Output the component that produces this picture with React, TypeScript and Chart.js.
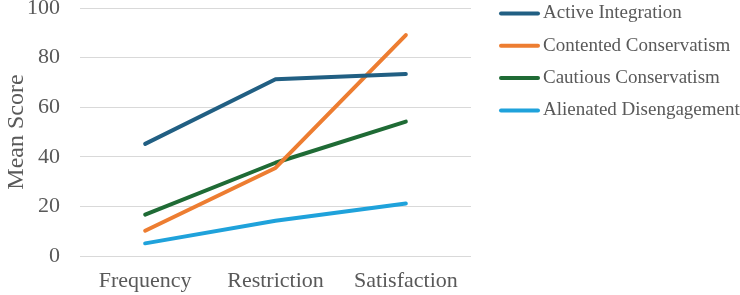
import React, { useEffect, useRef } from "react";
import { Chart, registerables } from "chart.js";

Chart.register(...registerables);

const categories = ["Frequency", "Restriction", "Satisfaction"];

const seriesNames = [
  "Active Integration",
  "Contented Conservatism",
  "Cautious Conservatism",
  "Alienated Disengagement",
];

const activeIntegration = [45.2, 71.3, 73.4];
const contentedConservatism = [10.2, 35.5, 89.1];
const cautiousConservatism = [16.7, 37.6, 54.2];
const alienatedDisengagement = [5.1, 14.2, 21.2];

const seriesColors = ["#215F83", "#ED7D31", "#1F6B35", "#1FA2DB"];

const yTicks = [0, 20, 40, 60, 80, 100];

const FONT = "'Liberation Serif', 'Times New Roman', serif";
const TEXT_COLOR = "#595959";

// Legend drawn to the right of the plot: a short line swatch butted against its label.
const sideLegend = {
  id: "sideLegend",
  afterDraw(chart: any) {
    const { ctx, chartArea } = chart;
    const x0 = chartArea.right + 28;
    const swatch = 41;
    const rowGap = 32.3;
    ctx.save();
    ctx.font = `19px ${FONT}`;
    ctx.textBaseline = "middle";
    ctx.textAlign = "left";
    chart.data.datasets.forEach((ds: any, i: number) => {
      const y = chartArea.top + 5.5 + i * rowGap;
      ctx.strokeStyle = ds.borderColor;
      ctx.lineWidth = 4;
      ctx.lineCap = "round";
      ctx.beginPath();
      ctx.moveTo(x0 + 2, y);
      ctx.lineTo(x0 + swatch - 2, y);
      ctx.stroke();
      ctx.fillStyle = TEXT_COLOR;
      ctx.fillText(ds.label, x0 + swatch + 3, y);
    });
    ctx.restore();
  },
};

export default function App() {
  const canvasRef = useRef<HTMLCanvasElement | null>(null);

  useEffect(() => {
    document.body.style.margin = "0";
    const canvas = canvasRef.current;
    if (!canvas) return;
    const values = [
      activeIntegration,
      contentedConservatism,
      cautiousConservatism,
      alienatedDisengagement,
    ];
    const chart = new Chart(canvas, {
      type: "line",
      data: {
        labels: categories,
        datasets: seriesNames.map((name, i) => ({
          label: name,
          data: values[i],
          borderColor: seriesColors[i],
          backgroundColor: seriesColors[i],
          borderWidth: 4,
          borderCapStyle: "round",
          borderJoinStyle: "round",
          pointRadius: 0,
          pointHoverRadius: 0,
          tension: 0,
          fill: false,
        })),
      },
      options: {
        animation: false,
        responsive: true,
        maintainAspectRatio: false,
        layout: { padding: { top: 8, right: 269, bottom: 0, left: 0 } },
        plugins: {
          legend: { display: false },
          tooltip: { enabled: false },
        },
        scales: {
          x: {
            offset: true,
            grid: { display: false, drawTicks: false },
            border: { display: false },
            ticks: {
              color: TEXT_COLOR,
              font: { family: FONT, size: 22 },
              padding: 12,
              maxRotation: 0,
            },
            afterFit(scale: any) {
              scale.height = 39;
              scale.paddingLeft = 0;
              scale.paddingRight = 0;
            },
          },
          y: {
            min: 0,
            max: 100,
            afterBuildTicks(scale: any) {
              scale.ticks = yTicks.map((v) => ({ value: v }));
            },
            grid: { color: "#D9D9D9", lineWidth: 1, drawTicks: false },
            border: { display: false },
            ticks: {
              color: TEXT_COLOR,
              font: { family: FONT, size: 22 },
              padding: 20,
            },
            title: {
              display: true,
              text: "Mean Score",
              color: TEXT_COLOR,
              font: { family: FONT, size: 24 },
              padding: { top: 2, bottom: 0 },
            },
            afterFit(scale: any) {
              scale.width = 80;
              scale.paddingTop = 0;
              scale.paddingBottom = 0;
            },
          },
        },
      },
      plugins: [sideLegend],
    } as any);
    return () => chart.destroy();
  }, []);

  return (
    <div style={{ width: 740, height: 295, position: "relative", background: "#ffffff" }}>
      <canvas ref={canvasRef} />
    </div>
  );
}
